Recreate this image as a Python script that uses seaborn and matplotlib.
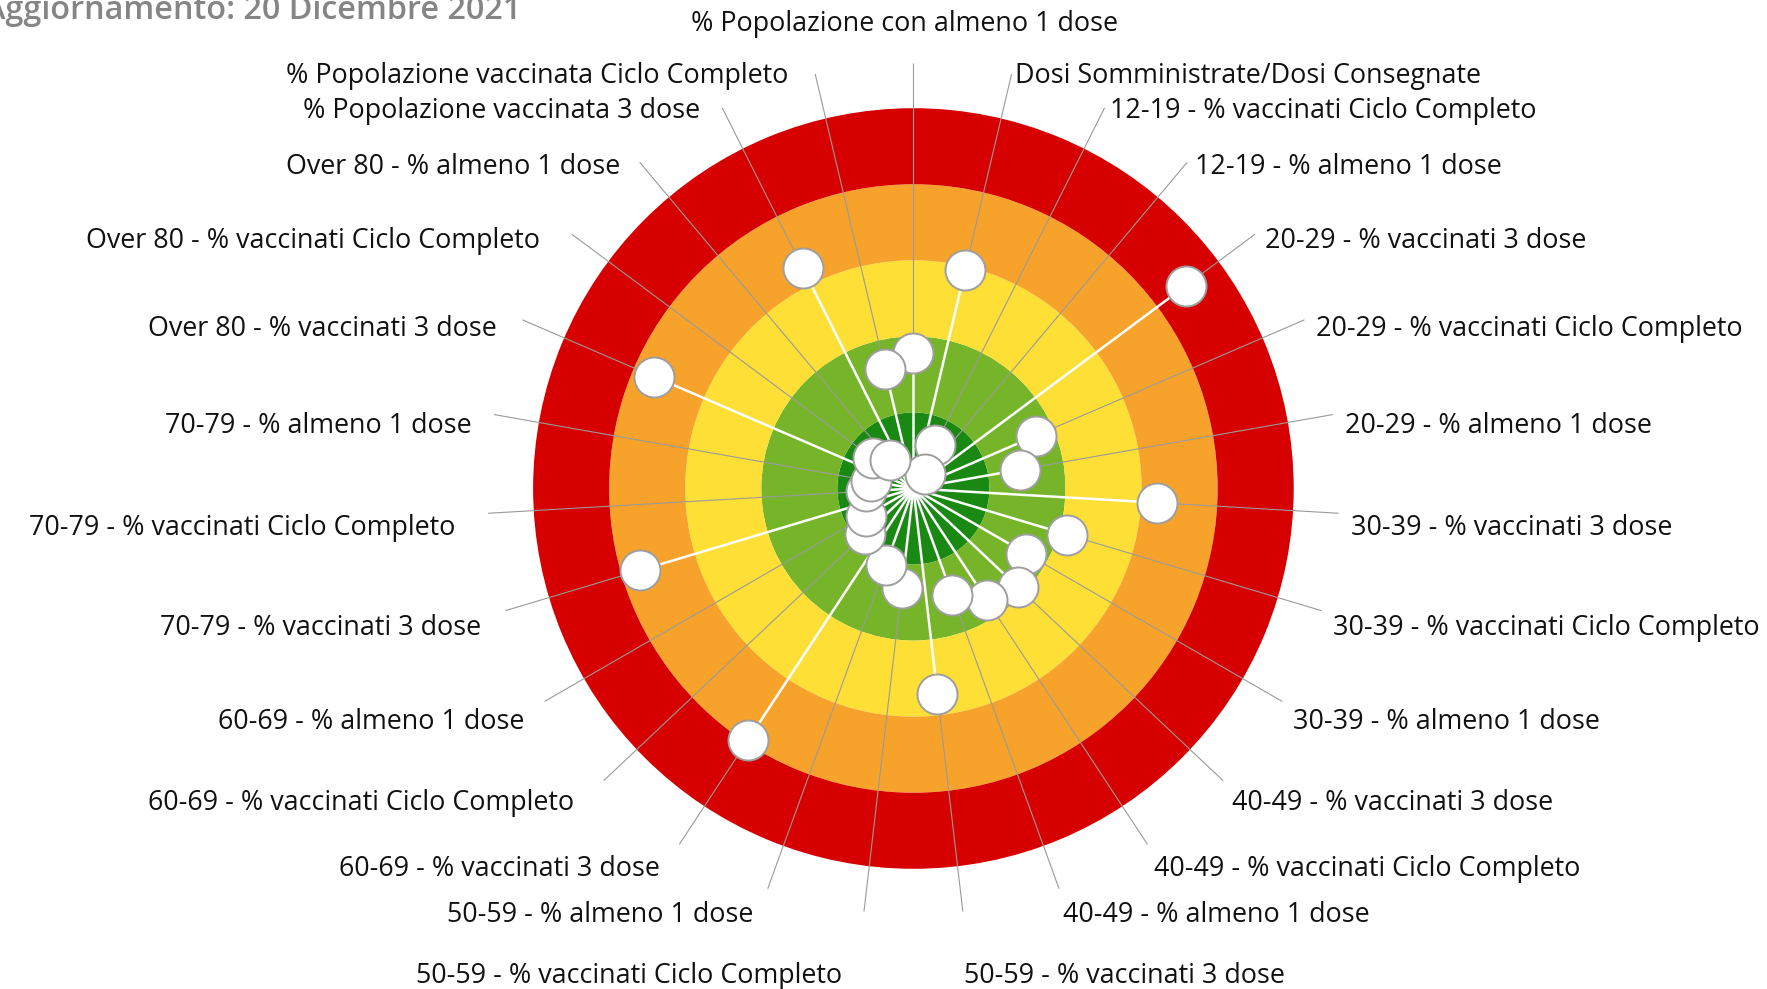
import numpy as np
import pandas as pd
import matplotlib
matplotlib.use("Agg")
import matplotlib.pyplot as plt
import seaborn as sns

# Indicator names, clockwise from the top
categories = [
    "% Popolazione con almeno 1 dose",
    "Dosi Somministrate/Dosi Consegnate",
    "12-19 - % vaccinati Ciclo Completo",
    "12-19 - % almeno 1 dose",
    "20-29 - % vaccinati 3 dose",
    "20-29 - % vaccinati Ciclo Completo",
    "20-29 - % almeno 1 dose",
    "30-39 - % vaccinati 3 dose",
    "30-39 - % vaccinati Ciclo Completo",
    "30-39 - % almeno 1 dose",
    "40-49 - % vaccinati 3 dose",
    "40-49 - % vaccinati Ciclo Completo",
    "40-49 - % almeno 1 dose",
    "50-59 - % vaccinati 3 dose",
    "50-59 - % vaccinati Ciclo Completo",
    "50-59 - % almeno 1 dose",
    "60-69 - % vaccinati 3 dose",
    "60-69 - % vaccinati Ciclo Completo",
    "60-69 - % almeno 1 dose",
    "70-79 - % vaccinati 3 dose",
    "70-79 - % vaccinati Ciclo Completo",
    "70-79 - % almeno 1 dose",
    "Over 80 - % vaccinati 3 dose",
    "Over 80 - % vaccinati Ciclo Completo",
    "Over 80 - % almeno 1 dose",
    "% Popolazione vaccinata 3 dose",
    "% Popolazione vaccinata Ciclo Completo",
]

# Distance score of each indicator (0 = centre, 100 = outer edge of the red ring)
scores = [35.7, 59.0, 12.8, 4.9, 89.2, 35.1, 28.4, 64.1, 42.2, 34.3,
          37.7, 35.2, 29.8, 54.4, 26.4, 21.3, 79.0, 17.6, 14.3, 75.0,
          12.5, 11.3, 74.3, 13.4, 9.7, 64.8, 32.3]

# Concentric bands: upper edge of each band and its colour
band_edges = [20, 40, 60, 80, 100]
band_colors = ["#1a8913", "#76b52a", "#fedf35", "#f7a32b", "#d70000"]

title_text = "Aggiornamento: 20 Dicembre 2021"

sns.set_theme(style="white")
plt.rcParams["font.family"] = ["Open Sans", "DejaVu Sans"]

W, H, DPI = 1767, 989, 100
fig = plt.figure(figsize=(W / DPI, H / DPI), dpi=DPI)
fig.patch.set_facecolor("white")

# Polar axes: centre at (913, 488) px from top-left, r=100 -> 380 px
px_per_unit = 3.803
r_max = 116.0
rad_px = r_max * px_per_unit
cx, cy_top = 913.4, 488.5
cy = H - cy_top
ax = fig.add_axes([(cx - rad_px) / W, (cy - rad_px) / H,
                   2 * rad_px / W, 2 * rad_px / H], projection="polar")
ax.set_theta_zero_location("N")
ax.set_theta_direction(-1)
ax.set_ylim(0, r_max)
ax.axis("off")

n = len(categories)
theta = np.arange(n) * 2 * np.pi / n
df = pd.DataFrame({"category": categories, "theta": theta, "score": scores})

# Background rings
lower = 0
for edge, col in zip(band_edges, band_colors):
    ax.bar(0, edge - lower, width=2 * np.pi, bottom=lower, align="edge",
           color=col, linewidth=0, edgecolor="none", zorder=1)
    lower = edge

# Stems: white from the centre to the point, grey leader out past the rings
leader_end = 112.0
ax.vlines(df["theta"], 0, df["score"], colors="white", linewidth=1.8, zorder=3)
ax.vlines(df["theta"], df["score"], leader_end, colors="#9a9a9a",
          linewidth=0.8, zorder=2)

# Points
sns.scatterplot(data=df, x="theta", y="score", ax=ax, s=830, color="white",
                edgecolor="#9e9e9e", linewidth=1.4, zorder=5, legend=False)
ax.set_xlabel("")
ax.set_ylabel("")

# Labels
label_r = 115.3
for th, name in zip(df["theta"], df["category"]):
    s, c = np.sin(th), np.cos(th)
    pad = 0.96 * len(name) - 12.4
    dy = -14.0
    if abs(c) > 0.99:
        dy += 38 * np.sign(c) + (1.7 if c > 0 else 0)
    if s > 0.05:
        ha, dx = "left", 0
    elif s < -0.05:
        ha, dx = "right", -pad
    else:
        ha, dx = "center", -pad / 2
    ax.annotate(name, xy=(th, label_r), xytext=(dx, dy),
                textcoords="offset pixels", ha=ha, va="center",
                fontsize=19.4, color="#111111", annotation_clip=False)

fig.text(-16 / W, 1 - 19 / H, title_text, ha="left", va="baseline",
         fontsize=23.3, fontweight="semibold", color="#858585")

fig.savefig("out.png", dpi=DPI, facecolor="white")
